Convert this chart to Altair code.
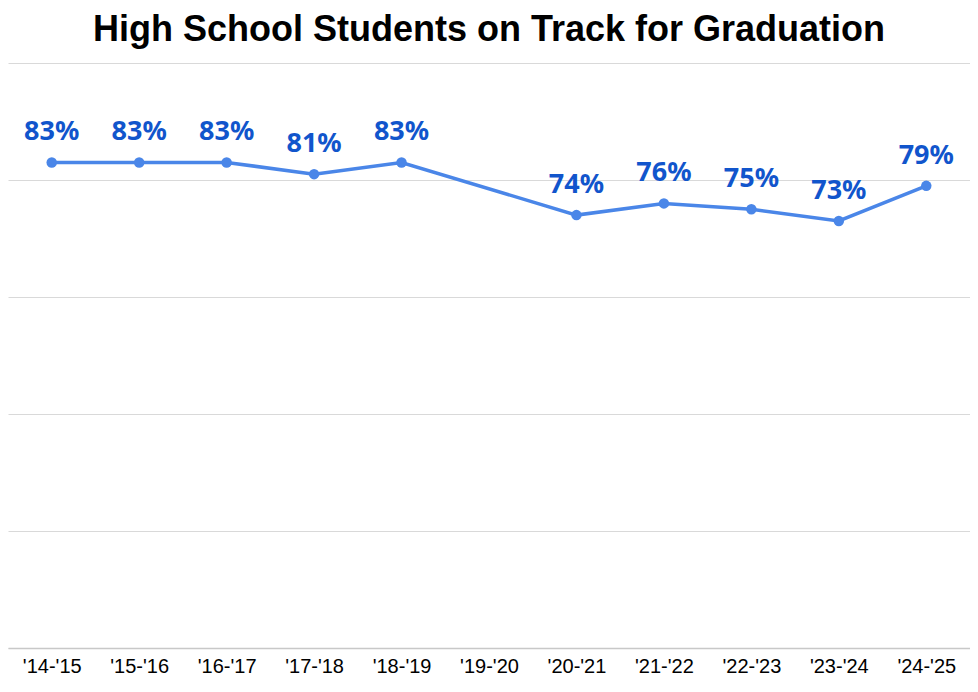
import altair as alt
import pandas as pd

years = ["'14-'15", "'15-'16", "'16-'17", "'17-'18", "'18-'19", "'19-'20",
         "'20-'21", "'21-'22", "'22-'23", "'23-'24", "'24-'25"]
values = [83, 83, 83, 81, 83, None, 74, 76, 75, 73, 79]

df = pd.DataFrame({"year": years, "value": values})
df = df[df["value"].notna()].copy()
df["label"] = df["value"].astype(int).astype(str) + "%"

x = alt.X("year:N", sort=years,
          scale=alt.Scale(type="point", domain=years, padding=0.5),
          axis=alt.Axis(title=None, labelAngle=0, ticks=False, labelPadding=8,
                        labelFont="Liberation Sans", labelFontSize=20,
                        labelColor="#000000", domainColor="#c8c8c8",
                        domainWidth=1.5, grid=False))
y = alt.Y("value:Q", scale=alt.Scale(domain=[0, 100], nice=False, zero=True),
          axis=alt.Axis(title=None, labels=False, ticks=False, domain=False,
                        values=[0, 20, 40, 60, 80, 100], grid=True,
                        gridColor="#d9d9d9", gridWidth=1))

base = alt.Chart(df).encode(x=x, y=y)

line = base.mark_line(color="#4a86e8", strokeWidth=3.5)
pts = base.mark_point(filled=True, color="#4a86e8", size=110, opacity=1)
labels = base.mark_text(color="#1155cc", font="Noto Sans", fontWeight="bold",
                        fontSize=27, dy=-22, baseline="alphabetic").encode(text="label:N")

chart = (line + pts + labels).properties(
    width=962, height=585,
    background="#ffffff",
    title=alt.TitleParams("High School Students on Track for Graduation",
                          font="Liberation Sans", fontSize=36, fontWeight="bold",
                          color="#000000", anchor="middle", offset=14),
    autosize=alt.AutoSizeParams(type="none"),
    padding={"left": 0, "top": 55, "right": 0, "bottom": 36},
).configure_view(strokeWidth=0, stroke="transparent")

chart.save("out.html", embed_options={"renderer": "svg", "actions": False})
